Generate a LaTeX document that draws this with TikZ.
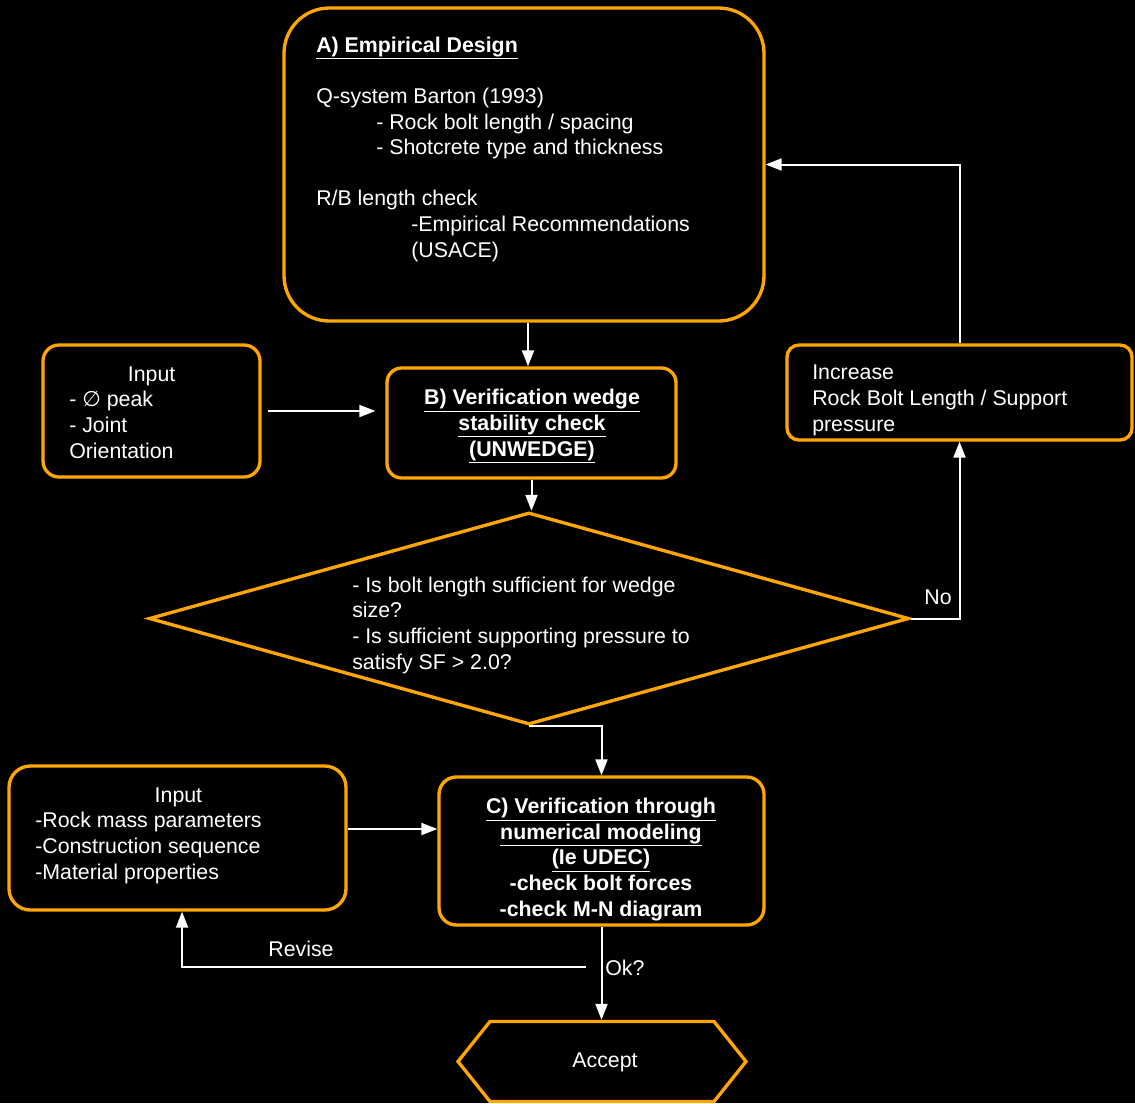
\documentclass[tikz,border=0pt]{standalone}
\usepackage{fontspec}
\setmainfont{Liberation Sans}
\newfontfamily\dejavu{DejaVu Sans}
\usetikzlibrary{arrows.meta,shapes.geometric,shapes.symbols}
\definecolor{boxorange}{RGB}{255,166,0}
\begin{document}
\begin{tikzpicture}[x=0.75pt,y=-0.75pt,
  every node/.style={font=\fontsize{16pt}{19.2pt}\selectfont, text=white, inner sep=0pt},
  box/.style={draw=boxorange, line width=2.5pt, rectangle},
  arr/.style={draw=white, line width=1.5pt, -{Triangle[length=12pt,width=9pt]}},
  txt/.style={align=left, anchor=base west},
  ctxt/.style={align=center, anchor=base}]
\fill[black] (0,0) rectangle (1135,1103);
\useasboundingbox (0,0) rectangle (1135,1103);

% boxes
\node[box, rounded corners=34pt, minimum width=360pt, minimum height=234.75pt] (A) at (524,164.5) {};
\node[box, rounded corners=11pt, minimum width=216.75pt, minimum height=82.5pt] (B) at (531.5,423) {};
\node[box, rounded corners=12pt, minimum width=162.75pt, minimum height=99pt] (in1) at (151.5,411) {};
\node[box, rounded corners=9pt, minimum width=258.75pt, minimum height=71.25pt] (incr) at (959.5,392.5) {};
\node[draw=boxorange, line width=2.5pt, diamond, minimum width=570pt, minimum height=159pt] (dia) at (529,618.5) {};
\node[box, rounded corners=13pt, minimum width=243.75pt, minimum height=111pt] (C) at (601.5,851) {};
\node[box, rounded corners=16pt, minimum width=252.75pt, minimum height=108pt] (in2) at (177.5,838) {};
\node[draw=boxorange, line width=2.5pt, signal, signal to=west and east, signal pointer angle=102.7, minimum width=216pt, minimum height=60pt] (acc) at (602,1061.5) {};

% texts (anchored at the baseline of the last line)
\node[txt] (tA) at (316,257) {\textbf{\underline{A) Empirical Design}}\\[19.2pt]
Q-system Barton (1993)\\
\hspace*{45pt}- Rock bolt length / spacing\\
\hspace*{45pt}- Shotcrete type and thickness\\[19.2pt]
R/B length check\\
\hspace*{71.25pt}-Empirical Recommendations\\
\hspace*{71.25pt}(USACE)};
\node[ctxt] (tB) at (532,456) {\textbf{\underline{B) Verification wedge}}\\
\textbf{\underline{stability check}}\\
\textbf{\underline{(UNWEDGE)}}};
\node[txt] (tin1) at (69,458) {\hspace*{44pt}Input\\
- {\dejavu ∅} peak\\
- Joint\\
Orientation};
\node[txt] (tincr) at (812,431) {Increase\\
Rock Bolt Length / Support\\
pressure};
\node[txt] (tdia) at (352,669) {- Is bolt length sufficient for wedge\\
size?\\
- Is sufficient supporting pressure to\\
satisfy SF > 2.0?};
\node[ctxt] (tC) at (601,916) {\textbf{\underline{C) Verification through}}\\
\textbf{\underline{numerical modeling}}\\
\textbf{\underline{(Ie UDEC)}}\\
\textbf{-check bolt forces}\\
\textbf{-check M-N diagram}};
\node[txt] (tin2) at (35,879) {\hspace*{89.6pt}Input\\
-Rock mass parameters\\
-Construction sequence\\
-Material properties};
\node (tacc) at (605,1062) {Accept};
\node (lno) at (938,597) {No};
\node (lrev) at (301,949) {Revise};
\node[anchor=west] (lok) at (605,968) {Ok?};

% connectors
\draw[arr] ([xshift=3pt]A.south) -- ([xshift=3pt]A.south |- B.north);
\draw[arr, shorten <=4.5pt, shorten >=7.5pt] (in1.east) -- (in1.east -| B.west);
\draw[arr] (B.south) -- (B.south |- dia.north);
\draw[arr] (dia.east) -| (incr.south);
\draw[arr] (incr.north) |- (A.east);
\draw[arr] (dia.south) -| (C.north);
\draw[arr] ([yshift=6.75pt]in2.east) -- ([yshift=6.75pt]in2.east -| C.west);
\draw[arr] (C.south) -- (C.south |- acc.north);
\coordinate (rv) at (586,967);
\draw[arr] (rv) -| ([xshift=3.4pt]in2.south);
\end{tikzpicture}
\end{document}
